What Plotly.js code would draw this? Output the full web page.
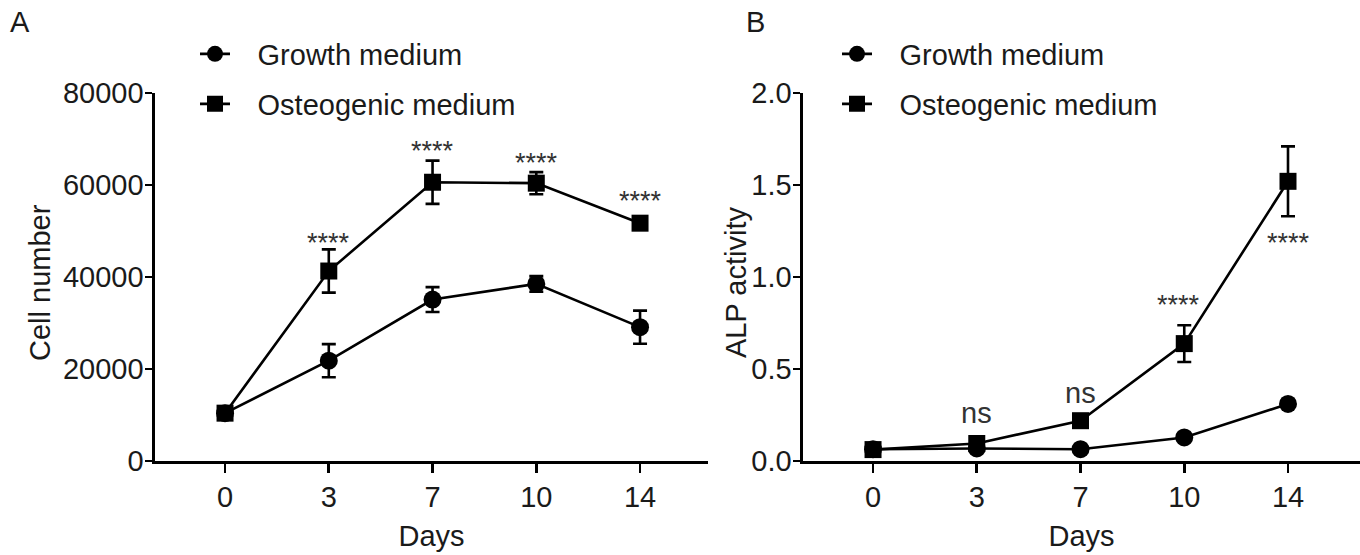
<!DOCTYPE html>
<html>
<head>
<meta charset="utf-8">
<script src="https://cdn.plot.ly/plotly-3.0.1.min.js"></script>
<style>html,body{margin:0;padding:0;background:#fff;}#chart{width:1360px;height:555px;}</style>
</head>
<body>
<div id="chart"></div>
<script>
// ---- data ----
var days = ['0', '3', '7', '10', '14'];
var growthCell = [10400, 21800, 35100, 38500, 29100];
var growthCellErr = [700, 3600, 2700, 1700, 3600];
var osteoCell = [10400, 41300, 60600, 60400, 51700];
var osteoCellErr = [700, 4700, 4700, 2400, 800];
var growthALP = [0.064, 0.068, 0.064, 0.128, 0.31];
var growthALPErr = [0.008, 0.008, 0.008, 0.012, 0.018];
var osteoALP = [0.062, 0.095, 0.219, 0.638, 1.52];
var osteoALPErr = [0.008, 0.012, 0.02, 0.1, 0.19];
var sigA = ['', '****', '****', '****', '****'];
var sigAY = [null, 47400, 67400, 64800, 56520];
var sigB = ['', 'ns', 'ns', '****', '****'];
var sigBY = [null, 0.261, 0.37, 0.848, 1.185];
var sigBDx = [0, 0, 0, -6, 0];
var yTicksA = [0, 20000, 40000, 60000, 80000];
var yTicksB = [0, 0.5, 1.0, 1.5, 2.0];
var yTickTextB = ['0.0', '0.5', '1.0', '1.5', '2.0'];

var FONT = 'Liberation Sans, Arial, sans-serif';
var TXT = '#1a1a1a';
var FS = 29;
var PAD = '\u2002\u00a0';

function tr(y, err, sym, name, xa, ya, leg) {
  return {
    x: days, y: y, name: PAD + name, type: 'scatter', mode: 'lines+markers',
    xaxis: xa, yaxis: ya, legend: leg,
    line: {color: '#000', width: 2.6},
    marker: {symbol: sym, size: sym === 'square' ? 17 : 18, color: '#000'},
    error_y: {type: 'data', array: err, visible: true, color: '#000', thickness: 2.6, width: 7},
    cliponaxis: false
  };
}

var data = [
  tr(growthCell, growthCellErr, 'circle', 'Growth medium', 'x', 'y', 'legend'),
  tr(osteoCell, osteoCellErr, 'square', 'Osteogenic medium', 'x', 'y', 'legend2'),
  tr(growthALP, growthALPErr, 'circle', 'Growth medium', 'x2', 'y2', 'legend3'),
  tr(osteoALP, osteoALPErr, 'square', 'Osteogenic medium', 'x2', 'y2', 'legend4')
];

var annotations = [];
days.forEach(function (d, i) {
  if (sigA[i]) annotations.push({x: i, y: sigAY[i], xref: 'x', yref: 'y', text: sigA[i], showarrow: false,
    font: {family: FONT, size: 27, color: '#333'}, yanchor: 'middle'});
  if (sigB[i]) annotations.push({x: i, y: sigBY[i], xref: 'x2', yref: 'y2', text: sigB[i], showarrow: false,
    xshift: sigBDx[i],
    font: {family: FONT, size: sigB[i] === 'ns' ? FS : 27, color: '#333'}, yanchor: 'middle'});
});
function paperText(txt, xpx, ypx, angle, anchor) {
  return {x: xpx / 1360, y: 1 - ypx / 555, xref: 'paper', yref: 'paper', text: txt, showarrow: false,
    xanchor: anchor || 'center', yanchor: 'middle', textangle: angle || 0,
    font: {family: FONT, size: FS, color: TXT}};
}
annotations.push(paperText('A', 8, 22, 0, 'left'));
annotations.push(paperText('B', 744, 22, 0, 'left'));
annotations.push(paperText('Cell number', 40, 283, -90));
annotations.push(paperText('ALP activity', 736, 283, -90));

function xax(domain, range, anchor) {
  return {
    type: 'category', domain: domain, range: range, anchor: anchor, showgrid: false, zeroline: false,
    showline: true, linecolor: '#000', linewidth: 2.6, ticks: 'outside', ticklen: 9, tickwidth: 2.6,
    tickcolor: '#000', tickfont: {family: FONT, size: FS, color: TXT},
    title: {text: 'Days', font: {family: FONT, size: FS, color: TXT}, standoff: 14},
    fixedrange: true
  };
}
function yax(anchor, range, tv, tt) {
  return {
    anchor: anchor, domain: [1 - 461 / 555, 1 - 93 / 555], range: range, showgrid: false, zeroline: false,
    showline: true, linecolor: '#000', linewidth: 2.6, ticks: 'outside', ticklen: 7, tickwidth: 2.6,
    tickcolor: '#000', tickfont: {family: FONT, size: FS, color: TXT}, ticklabelstandoff: -4,
    tickvals: tv, ticktext: tt, tickmode: 'array', fixedrange: true
  };
}

function leg(xpx, ypx) {
  return {x: xpx / 1360, y: 1 - ypx / 555, xanchor: 'left', yanchor: 'middle', bgcolor: 'rgba(0,0,0,0)',
    font: {family: FONT, size: FS, color: TXT}, borderwidth: 0};
}

var layout = {
  width: 1360, height: 555, margin: {l: 0, r: 0, t: 0, b: 0}, paper_bgcolor: '#fff', plot_bgcolor: '#fff',
  showlegend: true,
  xaxis: xax([155 / 1360, 708 / 1360], [-0.675, 4.655], 'y'),
  yaxis: yax('x', [0, 80000], yTicksA, yTicksA.map(String)),
  xaxis2: xax([803 / 1360, 1], [-0.675, 4.694], 'y2'),
  yaxis2: yax('x2', [0, 2.0], yTicksB, yTickTextB),
  legend: leg(195, 54), legend2: leg(195, 104), legend3: leg(837, 54), legend4: leg(837, 104),
  annotations: annotations
};

Plotly.newPlot('chart', data, layout, {displayModeBar: false, staticPlot: true});
</script>
</body>
</html>
